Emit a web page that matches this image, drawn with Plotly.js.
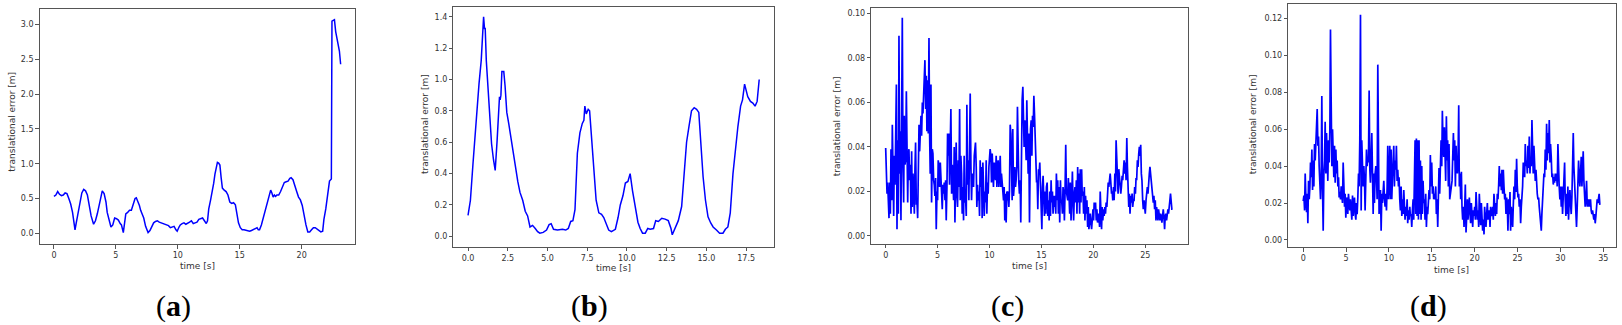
<!DOCTYPE html>
<html>
<head>
<meta charset="utf-8">
<script src="https://cdn.plot.ly/plotly-3.0.1.min.js"></script>
<style>html,body{margin:0;padding:0;background:#fff;}#chart{width:1622px;height:325px;}</style>
</head>
<body>
<div id="chart"></div>
<script>
// ---------- DATA ----------
const panelLabels = ["a", "b", "c", "d"];
const xTitle = "time [s]";
const yTitle = "translational error [m]";

const timeA = [0.0,0.15,0.3,0.45,0.6,0.75,0.9,1.05,1.2,1.35,1.5,1.6,1.7,1.8,1.9,2.0,2.1,2.25,2.4,2.55,2.7,2.85,3.0,3.2,3.35,3.5,3.7,3.9,4.05,4.2,4.3,4.45,4.6,4.75,4.9,5.05,5.2,5.35,5.45,5.6,5.7,5.8,5.95,6.1,6.25,6.4,6.55,6.65,6.8,6.9,7.0,7.1,7.25,7.4,7.6,7.75,7.9,8.05,8.2,8.35,8.5,8.65,8.8,8.95,9.1,9.25,9.4,9.55,9.7,9.85,9.95,10.1,10.2,10.35,10.5,10.65,10.8,10.95,11.1,11.25,11.4,11.55,11.7,11.85,12.0,12.15,12.3,12.4,12.5,12.65,12.8,12.9,13.0,13.1,13.2,13.3,13.4,13.5,13.6,13.75,13.9,14.05,14.2,14.35,14.5,14.65,14.75,14.9,15.05,15.2,15.35,15.5,15.65,15.8,15.95,16.1,16.25,16.4,16.5,16.6,16.75,16.9,17.05,17.2,17.35,17.5,17.6,17.7,17.8,17.9,18.0,18.15,18.3,18.45,18.6,18.75,18.9,19.05,19.15,19.3,19.45,19.6,19.75,19.9,20.05,20.2,20.35,20.5,20.65,20.8,20.95,21.1,21.25,21.4,21.55,21.7,21.8,21.95,22.05,22.15,22.25,22.4,22.45,22.55,22.65,22.75,22.85,22.95,23.05,23.15];
const errA = [0.53,0.55,0.60,0.56,0.54,0.55,0.58,0.57,0.50,0.42,0.30,0.15,0.05,0.15,0.25,0.38,0.48,0.58,0.63,0.61,0.55,0.40,0.25,0.13,0.18,0.28,0.45,0.61,0.57,0.45,0.30,0.18,0.09,0.12,0.22,0.21,0.19,0.14,0.12,0.01,0.12,0.28,0.30,0.33,0.33,0.42,0.50,0.51,0.45,0.40,0.33,0.28,0.22,0.10,0.01,0.04,0.10,0.15,0.17,0.18,0.16,0.15,0.14,0.13,0.12,0.11,0.08,0.09,0.10,0.05,0.03,0.09,0.12,0.14,0.15,0.13,0.14,0.16,0.18,0.14,0.15,0.16,0.20,0.21,0.22,0.18,0.14,0.18,0.35,0.48,0.60,0.72,0.85,0.95,1.02,1.01,0.98,0.80,0.65,0.62,0.60,0.55,0.45,0.43,0.44,0.41,0.30,0.15,0.08,0.05,0.05,0.04,0.04,0.03,0.04,0.05,0.06,0.08,0.05,0.05,0.12,0.22,0.30,0.40,0.52,0.62,0.58,0.52,0.55,0.53,0.55,0.55,0.60,0.66,0.73,0.74,0.75,0.79,0.80,0.77,0.70,0.60,0.52,0.48,0.40,0.25,0.12,0.02,0.02,0.05,0.08,0.08,0.06,0.03,0.02,0.03,0.20,0.35,0.48,0.65,0.75,0.78,3.05,3.06,3.07,2.90,2.80,2.70,2.62,2.43];

const timeB = [0.00,0.15,0.31,0.48,0.69,0.83,0.92,0.98,1.04,1.08,1.15,1.31,1.48,1.60,1.71,1.83,1.98,2.02,2.07,2.13,2.25,2.33,2.44,2.56,2.71,2.85,2.98,3.13,3.27,3.44,3.60,3.75,3.90,4.06,4.23,4.38,4.52,4.73,4.94,5.10,5.23,5.38,5.63,5.94,6.15,6.31,6.46,6.60,6.73,6.88,7.04,7.19,7.29,7.35,7.44,7.56,7.65,7.77,7.92,8.06,8.23,8.40,8.54,8.69,8.85,9.02,9.27,9.44,9.58,9.75,9.90,10.06,10.20,10.35,10.52,10.69,10.83,10.98,11.15,11.31,11.46,11.67,11.81,11.98,12.19,12.40,12.60,12.77,12.85,13.02,13.23,13.44,13.60,13.75,13.90,14.06,14.23,14.38,14.52,14.65,14.79,14.94,15.10,15.27,15.42,15.63,15.83,16.04,16.19,16.35,16.50,16.67,16.81,16.98,17.15,17.27,17.40,17.50,17.60,17.77,17.92,18.06,18.19,18.32];
const errB = [0.134,0.23,0.46,0.72,0.97,1.12,1.25,1.40,1.32,1.33,1.12,0.87,0.59,0.49,0.42,0.61,0.89,0.87,0.90,1.05,1.05,0.96,0.79,0.72,0.62,0.53,0.47,0.35,0.28,0.23,0.16,0.13,0.06,0.07,0.05,0.03,0.02,0.025,0.04,0.075,0.08,0.045,0.04,0.045,0.04,0.05,0.095,0.10,0.17,0.53,0.66,0.72,0.74,0.83,0.78,0.81,0.80,0.62,0.40,0.23,0.15,0.14,0.12,0.085,0.04,0.03,0.045,0.12,0.20,0.26,0.34,0.35,0.40,0.29,0.19,0.09,0.05,0.02,0.02,0.05,0.045,0.05,0.10,0.095,0.115,0.11,0.10,0.05,0.01,0.05,0.10,0.19,0.40,0.60,0.70,0.80,0.82,0.81,0.79,0.60,0.38,0.23,0.125,0.085,0.06,0.04,0.02,0.02,0.045,0.06,0.15,0.40,0.55,0.70,0.83,0.87,0.97,0.92,0.89,0.86,0.85,0.83,0.86,1.00];

const timeC = [
0.00,0.06,0.13,0.19,0.26,0.32,0.38,0.45,0.51,0.58,0.64,0.71,0.77,0.83,0.90,0.96,1.03,1.09,1.15,1.22,
1.28,1.35,1.41,1.47,1.54,1.60,1.67,1.73,1.79,1.86,1.92,1.99,2.05,2.12,2.18,2.24,2.31,2.37,2.44,2.50,
2.56,2.63,2.69,2.76,2.82,2.88,2.95,3.01,3.08,3.14,3.21,3.27,3.33,3.40,3.46,3.53,3.59,3.65,3.72,3.78,
3.85,3.91,3.97,4.04,4.10,4.17,4.23,4.29,4.36,4.42,4.49,4.55,4.62,4.68,4.74,4.81,4.87,4.94,5.00,5.06,
5.13,5.19,5.26,5.32,5.38,5.45,5.51,5.58,5.64,5.71,5.77,5.83,5.90,5.96,6.03,6.09,6.15,6.22,6.28,6.35,
6.41,6.47,6.54,6.60,6.67,6.73,6.79,6.86,6.92,6.99,7.05,7.12,7.18,7.24,7.31,7.37,7.44,7.50,7.56,7.63,
7.69,7.76,7.82,7.88,7.95,8.01,8.08,8.14,8.21,8.27,8.33,8.40,8.46,8.53,8.59,8.65,8.72,8.78,8.85,8.91,
8.97,9.04,9.10,9.17,9.23,9.29,9.36,9.42,9.49,9.55,9.62,9.68,9.74,9.81,9.87,9.94,10.00,10.06,10.13,10.19,
10.26,10.32,10.38,10.45,10.51,10.58,10.64,10.71,10.77,10.83,10.90,10.96,11.03,11.09,11.15,11.22,11.28,11.35,11.41,11.47,
11.54,11.60,11.67,11.73,11.79,11.86,11.92,11.99,12.05,12.12,12.18,12.24,12.31,12.37,12.44,12.50,12.56,12.63,12.69,12.76,
12.82,12.88,12.95,13.01,13.08,13.14,13.21,13.27,13.33,13.40,13.46,13.53,13.59,13.65,13.72,13.78,13.85,
13.95,14.01,14.08,14.14,14.21,14.27,14.33,14.40,14.46,14.53,14.59,14.65,14.72,14.78,14.84,14.91,14.97,15.04,15.10,15.16,
15.23,15.29,15.36,15.42,15.48,15.55,15.61,15.68,15.74,15.80,15.87,15.93,15.99,16.06,16.12,16.19,16.25,16.31,16.38,16.44,
16.51,16.57,16.63,16.70,16.76,16.83,16.89,16.95,17.02,17.08,17.15,17.21,17.27,17.34,17.40,17.46,17.53,17.59,17.66,17.72,
17.78,17.85,17.91,17.98,18.04,18.10,18.17,18.23,18.30,18.36,18.42,18.49,18.55,18.61,18.68,18.74,18.81,18.87,18.93,19.00,
19.06,19.13,19.19,19.25,19.32,19.38,19.45,19.51,19.57,19.64,19.70,19.76,19.83,19.89,19.96,20.02,20.08,20.15,20.21,20.28,
20.34,20.40,20.47,20.53,20.60,20.66,20.72,20.79,20.85,20.91,20.98,21.04,21.11,21.17,21.23,21.30,21.36,21.43,21.49,21.55,
21.62,21.68,21.75,21.81,21.87,21.94,22.00,22.07,22.13,22.19,22.26,22.32,22.38,22.45,22.51,22.58,22.64,22.70,22.77,22.83,
22.90,22.96,23.02,23.09,23.15,23.22,23.28,23.34,23.41,23.47,23.53,23.60,23.66,23.73,23.79,23.85,23.92,23.98,24.05,24.11,
24.17,24.24,24.30,24.37,24.43,24.49,24.56,24.62,24.68,24.75,24.81,24.88,24.94,25.00,25.07,25.13,25.20,25.26,25.32,25.39,
25.45,25.52,25.58,25.64,25.71,25.77,25.83,25.90,25.96,26.03,26.09,26.15,26.22,26.28,26.35,26.41,26.47,26.54,26.60,26.67,
26.73,26.79,26.86,26.92,26.99,27.05,27.11,27.18,27.24,27.30,27.37,27.43,27.50,27.56,27.62];
const errC = [
0.0395,0.025,0.019,0.024,0.016,0.008,0.024,0.010,0.039,0.016,
0.050,0.032,0.009,0.036,0.023,0.044,0.068,0.003,0.043,0.010,
0.090,0.028,0.047,0.007,0.041,0.098,0.030,0.015,0.054,0.032,
0.034,0.065,0.019,0.015,0.036,0.039,0.025,0.032,0.010,0.038,
0.013,0.028,0.022,0.010,0.030,0.042,0.014,0.016,0.008,0.022,
0.050,0.038,0.053,0.054,0.045,0.060,0.055,0.063,0.073,0.079,
0.057,0.072,0.047,0.070,0.046,0.089,0.046,0.028,0.068,0.015,
0.039,0.037,0.025,0.023,0.018,0.026,0.003,0.020,0.016,0.034,
0.031,0.022,0.033,0.024,0.021,0.012,0.023,0.019,0.024,0.016,
0.025,0.007,0.022,0.046,0.036,0.046,0.023,0.036,0.057,0.019,
0.032,0.026,0.016,0.040,0.006,0.026,0.042,0.018,0.013,0.034,
0.022,0.057,0.016,0.036,0.028,0.010,0.022,0.007,0.036,0.015,
0.018,0.009,0.059,0.023,0.034,0.016,0.042,0.064,0.031,0.016,
0.028,0.023,0.022,0.036,0.040,0.042,0.031,0.013,0.023,0.016,
0.020,0.009,0.034,0.022,0.031,0.008,0.033,0.022,0.009,0.020,
0.015,0.034,0.010,0.024,0.019,0.031,0.039,0.039,0.036,0.024,
0.037,0.027,0.022,0.033,0.028,0.025,0.036,0.022,0.031,0.034,
0.022,0.031,0.036,0.022,0.028,0.024,0.019,0.016,0.022,0.007,
0.019,0.006,0.020,0.016,0.020,0.013,0.020,0.050,0.046,0.031,
0.016,0.048,0.018,0.022,0.031,0.022,0.025,0.031,0.058,0.030,
0.024,0.019,0.025,0.006,0.049,0.061,0.067,0.057,0.040,0.052,
0.046,0.034,0.061,0.031,0.028,0.046,0.006,
0.048,0.052,0.036,0.054,0.049,0.063,0.055,0.039,0.031,0.024,
0.025,0.012,0.030,0.028,0.033,0.022,0.016,0.003,0.022,0.027,
0.016,0.009,0.020,0.010,0.022,0.024,0.009,0.016,0.007,0.020,
0.009,0.025,0.015,0.020,0.010,0.018,0.013,0.018,0.010,0.028,
0.016,0.025,0.010,0.022,0.006,0.025,0.015,0.016,0.010,0.022,
0.019,0.007,0.019,0.041,0.020,0.018,0.016,0.026,0.015,0.010,
0.024,0.007,0.016,0.029,0.016,0.007,0.019,0.022,0.015,0.025,
0.010,0.031,0.015,0.028,0.010,0.030,0.015,0.030,0.018,0.020,
0.010,0.022,0.007,0.018,0.010,0.016,0.004,0.013,0.003,0.007,
0.010,0.006,0.003,0.007,0.012,0.007,0.015,0.012,0.015,0.007,
0.012,0.006,0.010,0.009,0.004,0.020,0.012,0.003,0.013,0.007,
0.012,0.009,0.013,0.010,0.015,0.013,0.018,0.024,0.022,0.024,
0.028,0.024,0.019,0.020,0.016,0.022,0.016,0.028,0.020,0.043,
0.031,0.025,0.019,0.030,0.025,0.025,0.019,0.022,0.027,0.025,
0.033,0.034,0.028,0.033,0.025,0.044,0.031,0.022,0.013,0.019,
0.010,0.018,0.015,0.019,0.013,0.016,0.016,0.022,0.019,0.026,
0.025,0.034,0.031,0.037,0.040,0.036,0.041,0.028,0.025,0.016,
0.012,0.016,0.013,0.010,0.016,0.018,0.022,0.019,0.027,0.028,
0.031,0.027,0.025,0.020,0.016,0.015,0.018,0.012,0.016,0.007,
0.013,0.010,0.007,0.012,0.009,0.007,0.010,0.009,0.006,0.010,
0.012,0.009,0.003,0.009,0.010,0.007,0.010,0.012,0.010,0.015,
0.016,0.019,0.013,0.012,0.012];

const timeD = [
0.00,0.08,0.16,0.23,0.31,0.39,0.47,0.54,0.62,0.70,0.78,0.85,0.93,1.01,1.09,1.17,1.24,1.32,1.40,1.48,
1.55,1.63,1.71,1.79,1.86,1.94,2.02,2.10,2.17,2.25,2.33,2.41,2.49,2.56,2.64,2.72,2.80,2.87,2.95,3.03,
3.11,3.18,3.26,3.34,3.42,3.50,3.57,3.65,3.73,3.81,3.88,3.96,4.04,4.12,4.19,4.27,4.35,4.43,4.50,4.58,
4.66,4.74,4.82,4.89,4.97,5.05,5.13,5.20,5.28,5.36,5.44,5.51,5.59,5.67,5.75,5.83,5.90,5.98,6.06,6.14,
6.21,6.29,6.37,6.45,6.52,6.60,6.68,6.76,6.83,6.91,6.99,7.07,7.15,7.22,7.30,7.38,7.46,7.53,7.61,7.69,
7.77,7.84,7.92,8.00,8.08,8.16,8.23,8.31,8.39,8.47,8.54,8.62,8.70,8.78,8.85,8.93,9.01,9.09,9.17,9.24,
9.32,9.40,9.48,9.55,9.63,9.71,9.79,9.86,9.94,10.02,10.10,10.17,10.25,10.33,10.41,10.49,10.56,10.64,10.72,10.80,
10.87,10.95,11.03,11.11,11.18,11.26,11.34,11.42,11.50,11.57,11.65,11.73,11.81,11.88,11.96,12.04,12.12,12.19,12.27,12.35,
12.43,12.50,12.58,12.66,12.74,12.82,12.89,12.97,13.05,13.13,13.20,13.28,13.36,13.44,13.51,13.59,13.67,13.75,13.83,13.90,
13.98,14.06,14.14,14.21,14.29,14.37,14.45,14.52,14.60,14.68,14.76,14.83,14.91,14.99,15.07,15.15,15.22,15.30,15.38,15.46,
15.53,15.61,15.69,15.77,15.84,15.92,16.00,16.08,16.16,16.23,16.31,16.39,16.47,16.54,16.62,16.70,16.78,16.85,16.93,17.01,
17.09,
17.36,17.44,17.52,17.59,17.67,17.75,17.83,17.90,17.98,18.06,18.14,18.21,18.29,18.37,18.45,18.52,18.60,18.68,18.76,18.84,
18.91,18.99,19.07,19.15,19.22,19.30,19.38,19.46,19.53,19.61,19.69,19.77,19.84,19.92,20.00,20.08,20.16,20.23,20.31,20.39,
20.47,20.54,20.62,20.70,20.78,20.85,20.93,21.01,21.09,21.16,21.24,21.32,21.40,21.48,21.55,21.63,21.71,21.79,21.86,21.94,
22.02,22.10,22.17,22.25,22.33,22.41,22.49,22.56,22.64,22.72,22.80,22.87,22.95,23.03,23.11,23.18,23.26,23.34,23.42,23.50,
23.57,23.65,23.73,23.81,23.88,23.96,24.04,24.12,24.19,24.27,24.35,24.43,24.50,24.58,24.66,24.74,24.82,24.89,24.97,25.05,
25.13,25.20,25.28,25.36,25.44,25.51,25.59,25.67,25.75,25.83,25.90,25.98,26.06,26.14,26.21,26.29,26.37,26.45,26.52,26.60,
26.68,26.76,26.83,26.91,26.99,27.07,27.15,27.22,27.30,27.38,27.46,27.53,27.61,27.69,27.77,27.84,27.92,28.00,28.08,28.16,
28.23,28.31,28.39,28.47,28.54,28.62,28.70,28.78,28.85,28.93,29.01,29.09,29.17,29.24,29.32,29.40,29.48,29.55,29.63,29.71,
29.79,29.86,29.94,30.02,30.10,30.17,30.25,30.33,30.41,30.49,30.56,30.64,30.72,30.80,30.87,30.95,31.03,31.11,31.18,31.26,
31.34,31.42,31.50,31.57,31.65,31.73,31.81,31.88,31.96,32.04,32.12,32.19,32.27,32.35,32.43,32.51,32.58,32.66,32.74,32.82,
32.89,32.97,33.05,33.13,33.20,33.28,33.36,33.44,33.51,33.59,33.67,33.75,33.83,33.90,33.98,34.06,34.14,34.21,34.29,34.37,
34.45,34.52,34.60];
const errD = [
0.021,0.024,0.016,0.036,0.023,0.015,0.025,0.009,0.032,0.022,
0.029,0.042,0.034,0.049,0.027,0.043,0.029,0.052,0.043,0.058,
0.061,0.071,0.051,0.056,0.040,0.029,0.022,0.036,0.078,0.029,
0.005,0.036,0.043,0.064,0.036,0.058,0.043,0.032,0.054,0.042,
0.061,0.114,0.076,0.040,0.060,0.045,0.034,0.051,0.031,0.049,
0.036,0.043,0.029,0.034,0.023,0.026,0.022,0.029,0.025,0.020,
0.042,0.023,0.018,0.025,0.012,0.022,0.023,0.014,0.025,0.020,
0.016,0.022,0.016,0.011,0.024,0.013,0.020,0.023,0.014,0.011,
0.020,0.014,0.023,0.036,0.029,0.054,0.122,0.016,0.054,0.036,
0.029,0.040,0.032,0.016,0.040,0.049,0.040,0.045,0.042,0.081,
0.038,0.031,0.043,0.058,0.036,0.014,0.036,0.020,0.036,0.040,
0.036,0.022,0.095,0.029,0.014,0.023,0.027,0.005,0.025,0.020,
0.025,0.032,0.022,0.018,0.025,0.016,0.029,0.051,0.022,0.031,
0.051,0.022,0.049,0.022,0.034,0.040,0.051,0.029,0.043,0.038,
0.051,0.032,0.038,0.029,0.034,0.022,0.016,0.029,0.013,0.022,
0.014,0.027,0.018,0.011,0.018,0.013,0.022,0.009,0.016,0.011,
0.018,0.013,0.014,0.007,0.016,0.022,0.011,0.029,0.054,0.014,
0.055,0.013,0.054,0.011,0.054,0.014,0.043,0.011,0.040,0.014,
0.032,0.020,0.022,0.011,0.025,0.007,0.018,0.014,0.023,0.027,
0.022,0.046,0.029,0.042,0.025,0.029,0.022,0.025,0.022,0.029,
0.014,0.022,0.007,0.029,0.039,0.025,0.043,0.054,0.040,0.070,
0.052,0.045,0.061,0.049,0.032,0.067,0.043,0.054,0.029,0.052,
0.022,
0.032,0.049,0.058,0.043,0.054,0.029,0.051,0.040,0.036,0.043,
0.073,0.029,0.036,0.022,0.037,0.018,0.011,0.018,0.007,0.018,
0.030,0.004,0.014,0.022,0.011,0.018,0.023,0.014,0.009,0.020,
0.014,0.007,0.016,0.013,0.018,0.011,0.026,0.014,0.011,0.016,
0.007,0.025,0.013,0.008,0.020,0.014,0.005,0.011,0.003,0.018,
0.013,0.007,0.014,0.020,0.011,0.014,0.016,0.007,0.018,0.013,
0.014,0.018,0.011,0.025,0.018,0.013,0.020,0.014,0.025,0.022,
0.030,0.040,0.029,0.036,0.027,0.038,0.025,0.038,0.029,0.022,
0.025,0.014,0.023,0.018,0.005,0.022,0.014,0.026,0.005,0.018,
0.013,0.007,0.018,0.029,0.022,0.038,0.026,0.044,0.029,0.023,
0.025,0.018,0.022,0.009,0.018,0.022,0.029,0.042,0.038,0.034,
0.052,0.040,0.043,0.036,0.051,0.039,0.056,0.036,0.045,0.040,
0.065,0.045,0.036,0.051,0.040,0.032,0.038,0.029,0.025,0.022,
0.023,0.018,0.014,0.011,0.005,0.014,0.022,0.029,0.036,0.034,
0.049,0.038,0.063,0.043,0.058,0.047,0.065,0.042,0.052,0.045,
0.034,0.036,0.030,0.034,0.031,0.036,0.032,0.036,0.029,0.052,
0.034,0.029,0.022,0.029,0.018,0.029,0.014,0.023,0.032,0.042,
0.022,0.013,0.025,0.014,0.029,0.011,0.022,0.027,0.020,0.014,
0.023,0.047,0.058,0.040,0.029,0.018,0.011,0.007,0.018,0.032,
0.043,0.036,0.029,0.036,0.045,0.029,0.043,0.048,0.032,0.025,
0.018,0.022,0.032,0.018,0.022,0.018,0.022,0.018,0.022,0.016,
0.014,0.016,0.013,0.011,0.014,0.009,0.013,0.018,0.022,0.020,
0.023,0.025,0.019];

// ---------- LAYOUT ----------
const W = 1622, H = 325;
const xd = (a, b) => [a / W, b / W];
const yd = (top, bottom) => [1 - bottom / H, 1 - top / H];
const px = v => v / W;
const py = v => 1 - v / H;

const lineWidths = [1.5, 1.5, 1.7, 1.7];
const series = [[timeA, errA], [timeB, errB], [timeC, errC], [timeD, errD]];
const traces = series.map((s, i) => ({
  x: s[0], y: s[1], type: 'scatter', mode: 'lines',
  line: {color: 'rgb(0,0,255)', width: lineWidths[i]},
  xaxis: i === 0 ? 'x' : 'x' + (i + 1), yaxis: i === 0 ? 'y' : 'y' + (i + 1),
  hoverinfo: 'skip'
}));

const tickFont = {family: 'DejaVu Sans, sans-serif', size: 8, color: '#333'};
function ax(domain, range, dtick, fmt, anchor) {
  return {
    domain: domain, range: range, tick0: 0, dtick: dtick, tickformat: fmt,
    anchor: anchor, showgrid: false, zeroline: false,
    showline: true, mirror: true, linecolor: '#555', linewidth: 1,
    ticks: 'outside', ticklen: 3.5, tickwidth: 1, tickcolor: '#555',
    tickfont: tickFont, fixedrange: true
  };
}

const boxes = [
  {x: [39.6, 355], y: [9, 244], xr: [-1.16, 24.31], yr: [-0.154, 3.224], xdt: 5, xf: 'd', ydt: 0.5, yf: '.1f'},
  {x: [453.4, 774.3], y: [7.3, 246.7], xr: [-0.92, 19.27], yr: [-0.066, 1.46], xdt: 2.5, xf: '.1f', ydt: 0.2, yf: '.1f'},
  {x: [871.3, 1187.7], y: [8.3, 243.5], xr: [-1.385, 29.085], yr: [-0.0034, 0.1023], xdt: 5, xf: 'd', ydt: 0.02, yf: '.2f'},
  {x: [1288.3, 1615.7], y: [4.3, 247.3], xr: [-1.74, 36.45], yr: [-0.004, 0.1277], xdt: 5, xf: 'd', ydt: 0.02, yf: '.2f'}
];

const layout = {
  width: W, height: H, margin: {l: 0, r: 0, t: 0, b: 0},
  paper_bgcolor: '#fff', plot_bgcolor: '#fff', showlegend: false,
  annotations: []
};
boxes.forEach((b, i) => {
  const sx = i === 0 ? '' : String(i + 1);
  layout['xaxis' + sx] = ax(xd(b.x[0], b.x[1]), b.xr, b.xdt, b.xf, 'y' + sx);
  layout['yaxis' + sx] = ax(yd(b.y[0], b.y[1]), b.yr, b.ydt, b.yf, 'x' + sx);
});

const yTitlePos = [[11.7, 122], [425, 124], [837.3, 126], [1253.3, 124]];
const xTitlePos = [[197, 265.7], [613.8, 267.7], [1029.5, 265.7], [1451, 270]];
const capPos = [[173.3, 306], [589.2, 306], [1007.5, 306], [1428, 306]];
const labFont = {family: 'DejaVu Sans, sans-serif', size: 9, color: '#333'};
for (let i = 0; i < 4; i++) {
  layout.annotations.push({text: yTitle, xref: 'paper', yref: 'paper', x: px(yTitlePos[i][0]), y: py(yTitlePos[i][1]),
    xanchor: 'center', yanchor: 'middle', textangle: -90, showarrow: false, font: labFont});
  layout.annotations.push({text: xTitle, xref: 'paper', yref: 'paper', x: px(xTitlePos[i][0]), y: py(xTitlePos[i][1]),
    xanchor: 'center', yanchor: 'middle', showarrow: false, font: labFont});
  layout.annotations.push({text: '(<b>' + panelLabels[i] + '</b>)', xref: 'paper', yref: 'paper', x: px(capPos[i][0]), y: py(capPos[i][1]),
    xanchor: 'center', yanchor: 'middle', showarrow: false,
    font: {family: 'Liberation Serif, serif', size: 30, color: '#000'}});
}

Plotly.newPlot('chart', traces, layout, {staticPlot: true, displayModeBar: false});
</script>
</body>
</html>
